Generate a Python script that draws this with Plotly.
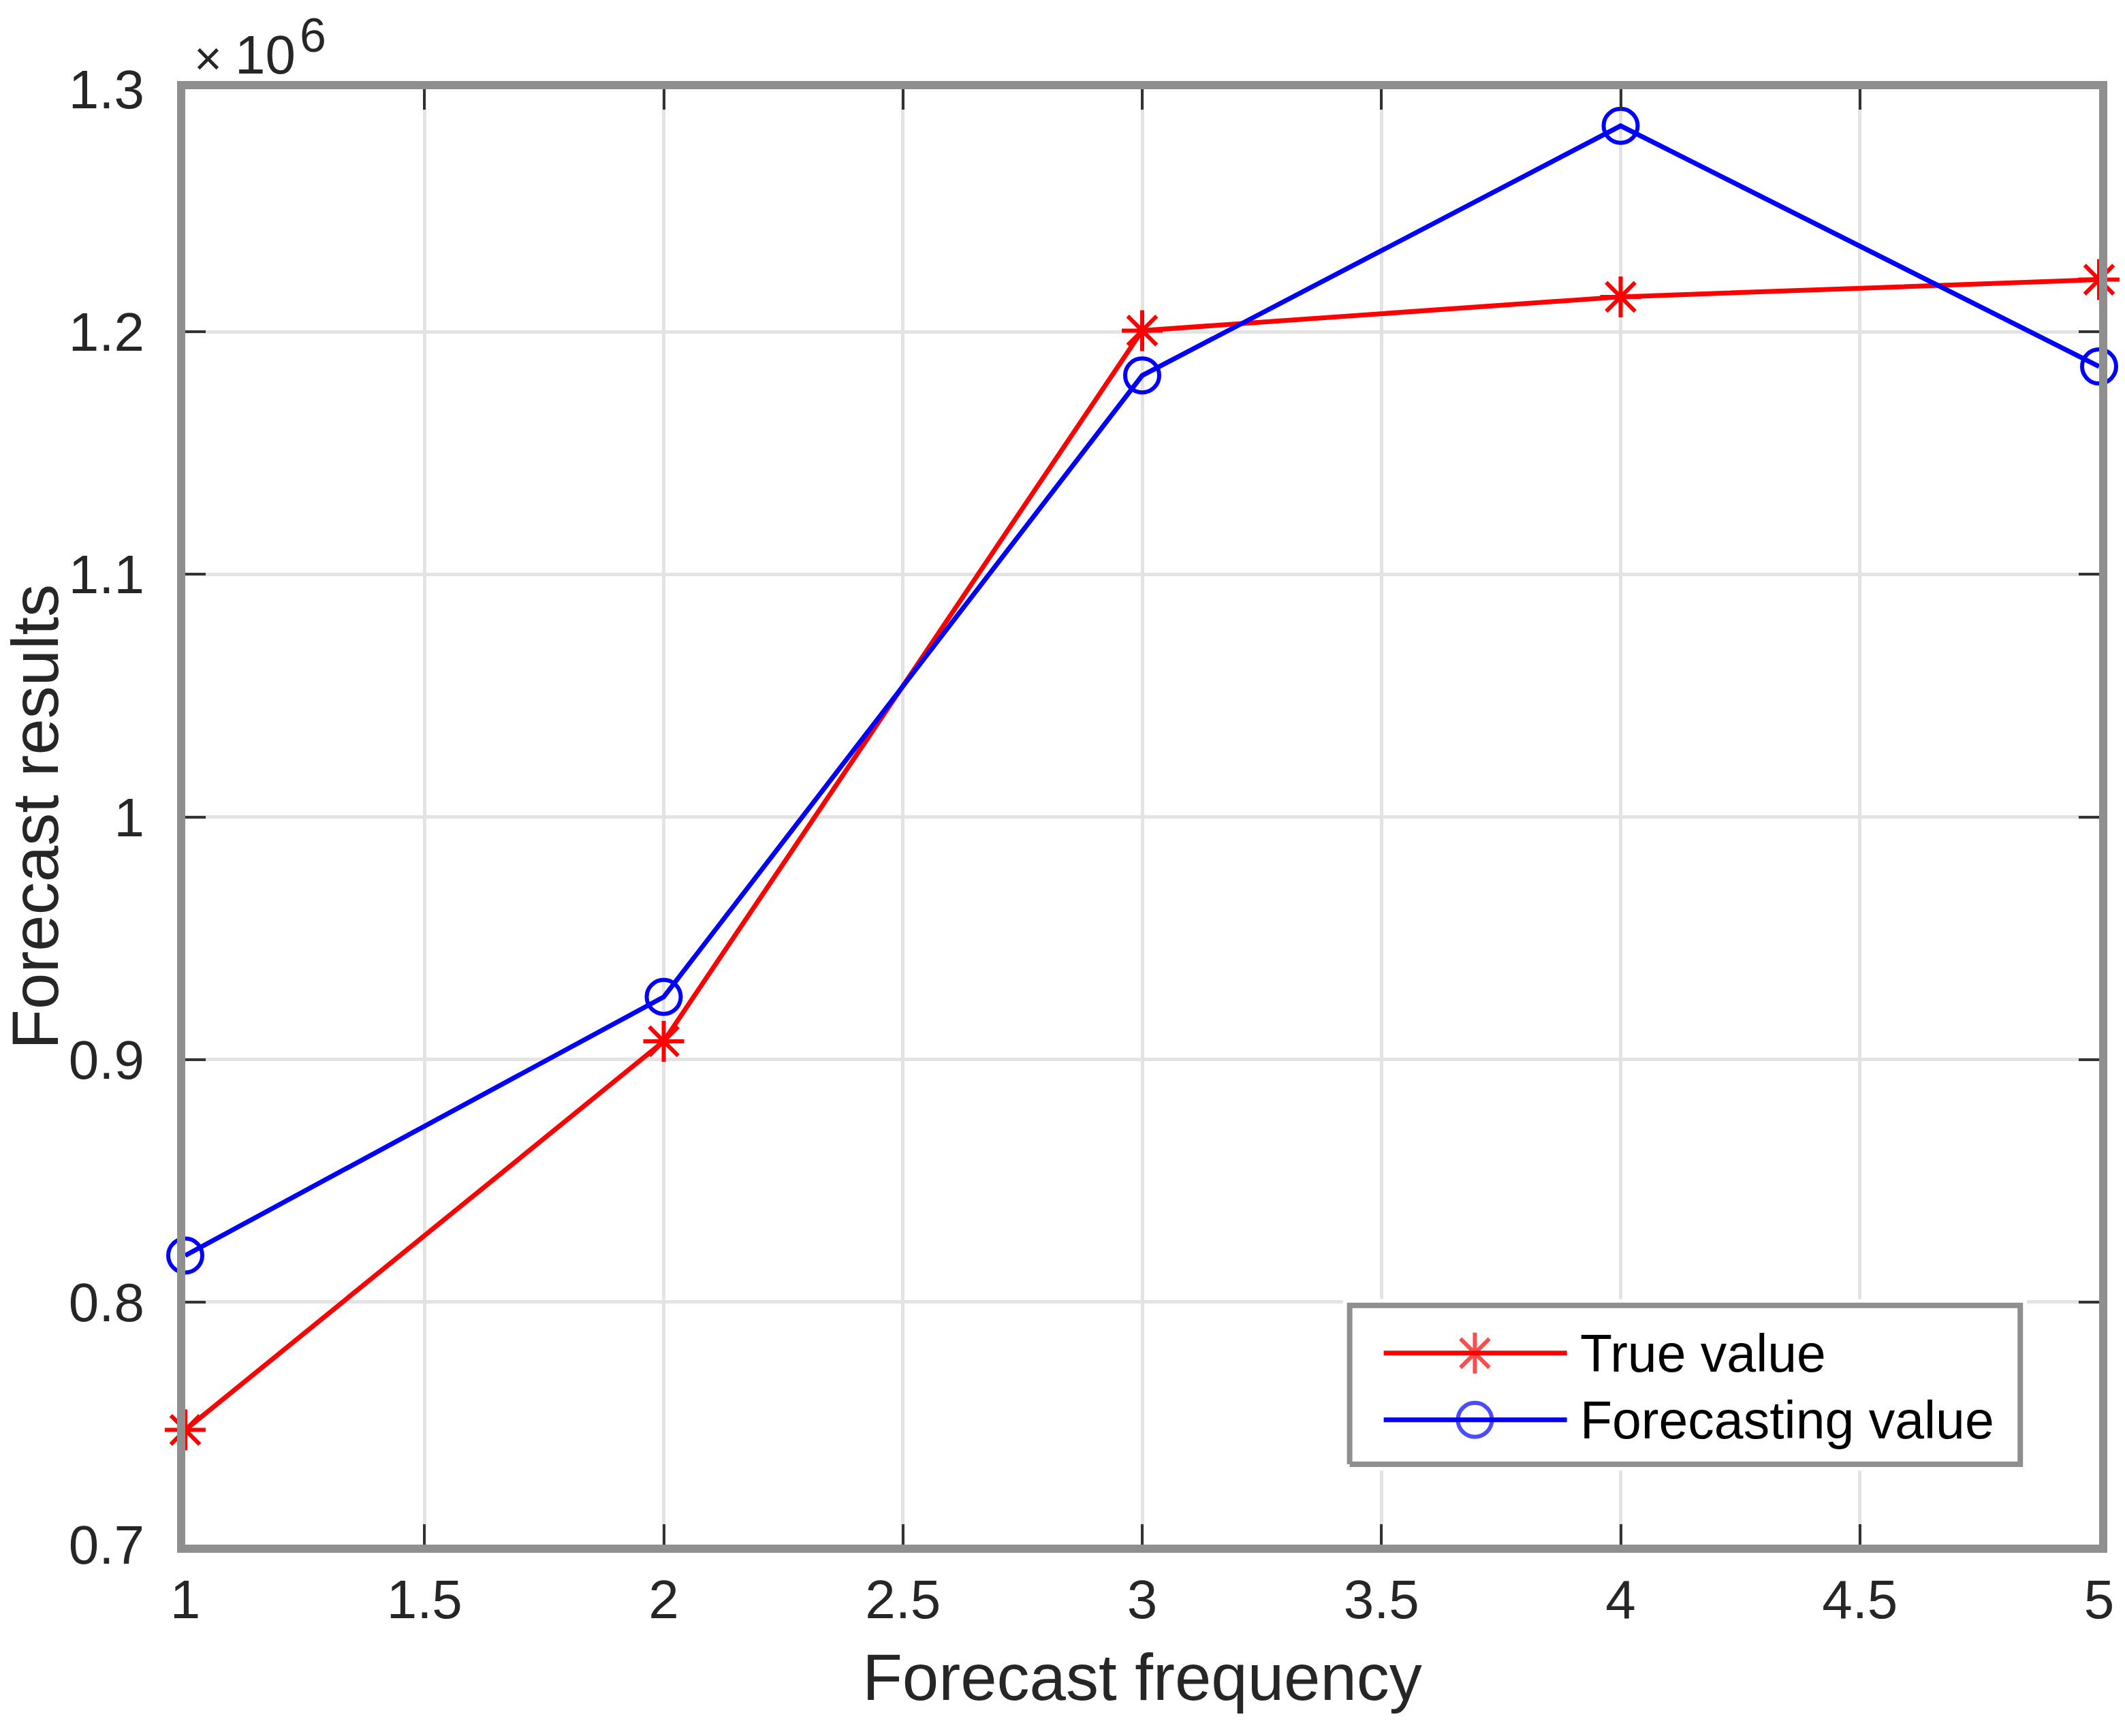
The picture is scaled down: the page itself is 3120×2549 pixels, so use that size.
import plotly.graph_objects as go

# ---- data (values in units of 1e6) ----
forecast_frequency = [1, 2, 3, 4, 5]
true_value = [0.7473e6, 0.9075e6, 1.2005e6, 1.2144e6, 1.2215e6]
forecasting_value = [0.8192e6, 0.9258e6, 1.1820e6, 1.2849e6, 1.1857e6]
series_names = ["True value", "Forecasting value"]

x_tick_vals = [1, 1.5, 2, 2.5, 3, 3.5, 4, 4.5, 5]
x_tick_text = ["1", "1.5", "2", "2.5", "3", "3.5", "4", "4.5", "5"]
y_tick_vals = [0.7e6, 0.8e6, 0.9e6, 1.0e6, 1.1e6, 1.2e6, 1.3e6]
y_tick_text = ["0.7", "0.8", "0.9", "1", "1.1", "1.2", "1.3"]

FONT = "Liberation Sans, Arial, Helvetica, sans-serif"
AXIS_GRAY = "#8f8f8f"
TEXT = "#262626"
styles = [
    dict(color="#ff0000", symbol="asterisk-open", size=50),
    dict(color="#0000ff", symbol="circle-open", size=50),
]
LINE_W = 7

fig = go.Figure()
for name, yvals, st in zip(series_names, [true_value, forecasting_value], styles):
    fig.add_trace(go.Scatter(
        x=forecast_frequency, y=yvals, name=name, mode="lines+markers",
        line=dict(color=st["color"], width=LINE_W),
        marker=dict(symbol=st["symbol"], size=st["size"], color=st["color"],
                    line=dict(color=st["color"], width=6)),
        cliponaxis=False, showlegend=False, xaxis="x", yaxis="y",
    ))

# ---- legend drawn on an overlay axis (unit box) ----
fig.add_trace(go.Scatter(
    x=[0, 1, 1, 0, 0], y=[0, 0, 1, 1, 0], mode="lines", fill="toself",
    fillcolor="white", line=dict(color=AXIS_GRAY, width=8),
    hoverinfo="skip", showlegend=False, xaxis="x2", yaxis="y2",
))
legend_rows = [0.70, 0.28]
for name, st, ry in zip(series_names, styles, legend_rows):
    fig.add_trace(go.Scatter(
        x=[0.0508, 0.1867, 0.324], y=[ry, ry, ry], mode="lines+markers",
        line=dict(color=st["color"], width=LINE_W),
        marker=dict(symbol=st["symbol"], size=[0, st["size"], 0], color=st["color"],
                    line=dict(color=st["color"], width=6)),
        hoverinfo="skip", showlegend=False, xaxis="x2", yaxis="y2",
    ))
    fig.add_annotation(
        text=name, xref="x2", yref="y2", x=0.342, y=ry,
        xanchor="left", yanchor="middle", showarrow=False,
        font=dict(family=FONT, size=77, color="#000000"),
    )

axis_common = dict(
    showline=True, linecolor=AXIS_GRAY, linewidth=12, mirror="ticks",
    ticks="inside", ticklen=30, tickwidth=4, tickcolor="#333333",
    showgrid=True, gridcolor="#e3e3e3", gridwidth=5,
    zeroline=False, automargin=False,
    tickfont=dict(family=FONT, size=80, color=TEXT),
)

fig.update_layout(
    xaxis=dict(
        range=[1, 5], tickvals=x_tick_vals, ticktext=x_tick_text,
        title=dict(text="Forecast frequency", font=dict(family=FONT, size=96, color=TEXT),
                   standoff=42),
        ticklabelstandoff=0, domain=[0, 1],
        **axis_common,
    ),
    yaxis=dict(
        range=[0.7e6, 1.3e6], tickvals=y_tick_vals, ticktext=y_tick_text,
        ticklabelstandoff=32, domain=[0, 1],
        **axis_common,
    ),
    xaxis2=dict(domain=[0.6049, 0.9623], range=[-0.01, 1.01], visible=False,
                anchor="y2", fixedrange=True),
    yaxis2=dict(domain=[0.0508, 0.1687], range=[-0.04, 1.04], visible=False,
                anchor="x2", fixedrange=True),
)

# y-axis title
fig.add_annotation(
    text="Forecast results", xref="paper", yref="paper",
    x=-0.0786, y=0.5, xanchor="center", yanchor="middle", textangle=-90,
    height=90, borderpad=0,
    showarrow=False, font=dict(family=FONT, size=96, color=TEXT),
)

# exponent label "×10^6"
fig.add_annotation(
    text="×", xref="paper", yref="paper",
    x=0.0039, y=1.002, xanchor="left", yanchor="bottom",
    showarrow=False, font=dict(family=FONT, size=70, color=TEXT),
)
fig.add_annotation(
    text="10", xref="paper", yref="paper",
    x=0.0253, y=1.002, xanchor="left", yanchor="bottom",
    showarrow=False, font=dict(family=FONT, size=80, color=TEXT),
)
fig.add_annotation(
    text="6", xref="paper", yref="paper",
    x=0.0591, y=1.0562, xanchor="left", yanchor="top",
    showarrow=False, font=dict(family=FONT, size=70, color=TEXT),
)

# the page body has an 8px default margin, so the figure is 16px smaller
fig.update_layout(
    width=3104, height=2533,
    margin=dict(l=264, r=30, t=123, b=273),
    paper_bgcolor="white", plot_bgcolor="white",
    font=dict(family=FONT, color=TEXT),
    showlegend=False,
)

fig.write_html("out.html")
